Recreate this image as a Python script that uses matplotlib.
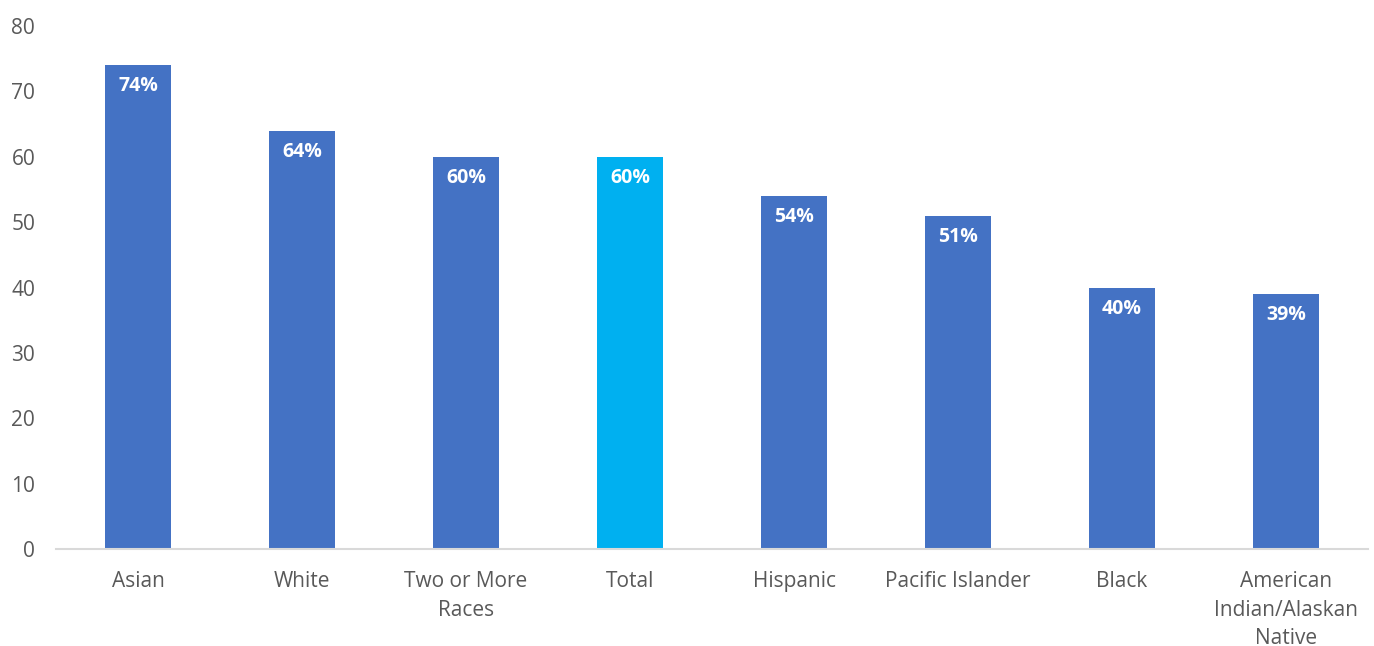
import matplotlib.pyplot as plt
import numpy as np

plt.rcParams["font.family"] = ["Open Sans", "DejaVu Sans"]

categories = ["Asian", "White", "Two or More\nRaces", "Total", "Hispanic",
              "Pacific Islander", "Black", "American\nIndian/Alaskan\nNative"]
values = [74, 64, 60, 60, 54, 51, 40, 39]
bar_colors = ["#4472C4", "#4472C4", "#4472C4", "#00B0F0",
              "#4472C4", "#4472C4", "#4472C4", "#4472C4"]

fig = plt.figure(figsize=(13.74, 6.46), dpi=100)
ax = fig.add_axes([0.0408, 0.150, 0.9548, 0.8098])

x = np.arange(len(categories))
bars = ax.bar(x, values, width=0.40, color=bar_colors, zorder=2)

for rect, v in zip(bars, values):
    ax.annotate(f"{v}%", (rect.get_x() + rect.get_width() / 2, v),
                xytext=(0, -8), textcoords="offset points",
                ha="center", va="top", color="white",
                fontsize=14, fontweight="bold")

ax.set_xlim(-0.5, len(categories) - 0.5)
ax.set_ylim(0, 80)
ax.set_yticks(range(0, 81, 10))
ax.set_xticks(x)
ax.set_xticklabels(categories, fontsize=15, color="#595959", linespacing=1.45)
ax.tick_params(axis="y", length=0, labelsize=15, labelcolor="#595959", pad=15)
ax.tick_params(axis="x", length=0, pad=16)

for side in ("top", "right", "left"):
    ax.spines[side].set_visible(False)
ax.spines["bottom"].set_color("#D9D9D9")
ax.spines["bottom"].set_linewidth(1.5)

fig.savefig("out.png", dpi=100)
